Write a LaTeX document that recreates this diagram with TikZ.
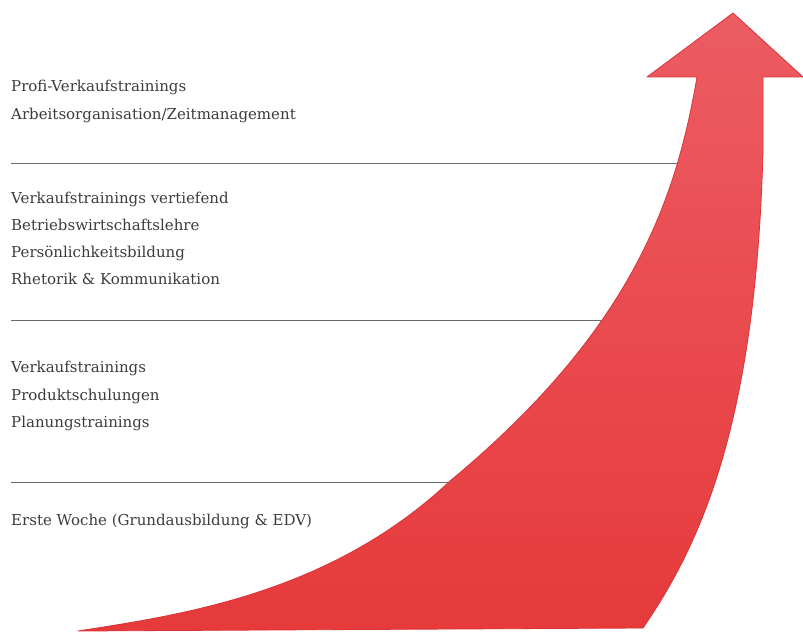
\documentclass[tikz,border=0pt]{standalone}
\usepackage{fontspec}
\setmainfont{DejaVu Serif}
\usetikzlibrary{calc}
\definecolor{arrowtop}{HTML}{EC5C63}
\definecolor{arrowbot}{HTML}{E63A3B}
\definecolor{arrowedge}{HTML}{DA3438}
\definecolor{labelgray}{HTML}{3C3C3C}
\definecolor{rulegray}{HTML}{6A6A6A}
\begin{document}
\begin{tikzpicture}[x=1pt,y=-1pt, label/.style={anchor=base west,inner sep=0,text=labelgray,font=\fontsize{15}{18}\selectfont}, rule/.style={draw=rulegray,line width=1pt}, bigarrow/.style={top color=arrowtop,bottom color=arrowbot,draw=arrowedge,line width=0.8pt,line join=round}]
  \useasboundingbox (0,0) rectangle (803,634);
  % level 4
  \node (profi) [label] at (11,92) {Profi-Verkaufstrainings};
  \node (arbeit) [label] at (11,119) {Arbeitsorganisation/Zeitmanagement};
  \draw[rule] (11,163) -- (690,163);
  % level 3
  \node (vertiefend) [label] at (11,203) {Verkaufstrainings vertiefend};
  \node (bwl) [label] at (11,230) {Betriebswirtschaftslehre};
  \node (person) [label] at (11,257) {Persönlichkeitsbildung};
  \node (rhetorik) [label] at (11,284) {Rhetorik \& Kommunikation};
  \draw[rule] (11,320) -- (620,320);
  % level 2
  \node (verkauf) [label] at (11,372) {Verkaufstrainings};
  \node (produkt) [label] at (11,400) {Produktschulungen};
  \node (planung) [label] at (11,427) {Planungstrainings};
  \draw[rule] (11,482) -- (470,482);
  % level 1
  \node (woche) [label] at (11,525) {Erste Woche (Grundausbildung \& EDV)};
  % the arrow
  \path[bigarrow] (78,631) -- (643,628)
    .. controls (700,545) and (756,425) .. (763,150) -- (763,77) -- (803,77)
    -- (733,13) -- (647,77) -- (697,77)
    .. controls (676,200) and (632,330) .. (450,481)
    .. controls (330,594) and (180,615) .. cycle;
\end{tikzpicture}
\end{document}
